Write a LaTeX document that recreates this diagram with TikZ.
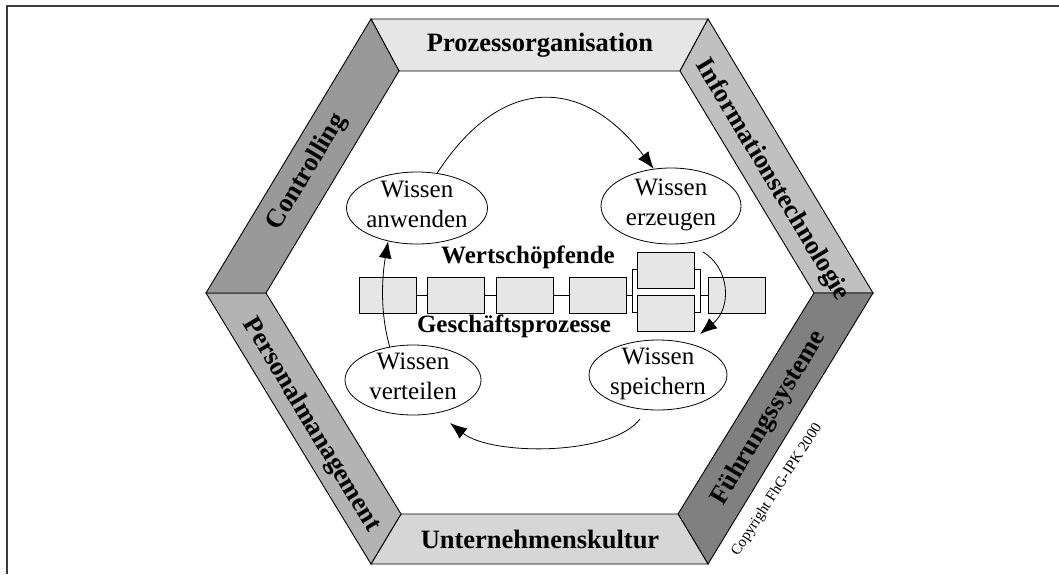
\documentclass[tikz,border=0pt]{standalone}
\usepackage{fontspec}
\setmainfont{Liberation Serif}
\usetikzlibrary{shapes.geometric,arrows.meta}
\definecolor{gtop}{HTML}{E6E6E6}
\definecolor{gtr}{HTML}{C0C0C0}
\definecolor{gbr}{HTML}{808080}
\definecolor{gbot}{HTML}{D6D6D6}
\definecolor{gbl}{HTML}{B3B3B3}
\definecolor{gtl}{HTML}{999999}
\definecolor{boxgray}{HTML}{E6E6E6}
\definecolor{framegray}{HTML}{3A3A3A}
\begin{document}
\begin{tikzpicture}[x=1pt,y=-1pt,
  frame/.style={draw=framegray,line width=2pt},
  band/.style={draw=black,line width=0.9pt,line join=miter},
  bandlabel/.style={font=\fontsize{26.5}{30}\selectfont\bfseries,inner sep=0pt},
  wissen/.style={ellipse,draw=black,line width=0.8pt,fill=white,inner sep=0pt},
  wtext/.style={font=\fontsize{25}{30}\selectfont,inner sep=0pt,anchor=base},
  ptext/.style={font=\fontsize{25}{30}\selectfont\bfseries,inner sep=0pt,anchor=base},
  pbox/.style={draw=black,fill=boxgray,line width=0.7pt,minimum width=57pt,minimum height=36pt,inner sep=0pt},
  pline/.style={draw=black,line width=0.7pt},
  cyc/.style={line width=0.8pt,-{Latex[length=17pt,width=13pt]}},
  copy/.style={font=\fontsize{15}{18}\selectfont,inner sep=0pt}
]
\useasboundingbox (0,0) rectangle (1059,574);
\fill[white] (0,0) rectangle (1059,574);
\draw[frame] (7,574) -- (7,6) -- (1059,6);

% hexagon points
\coordinate (OL) at (206,293);
\coordinate (OTL) at (371,19);
\coordinate (OTR) at (708,19);
\coordinate (OR) at (873,293);
\coordinate (OBR) at (708,564);
\coordinate (OBL) at (371,564);
\coordinate (IL) at (266,293);
\coordinate (ITL) at (399,71);
\coordinate (ITR) at (680,71);
\coordinate (IR) at (814,293);
\coordinate (IBR) at (678,514);
\coordinate (IBL) at (401,514);

\filldraw[band,fill=gtop] (OTL) -- (OTR) -- (ITR) -- (ITL) -- cycle;
\filldraw[band,fill=gtr] (OTR) -- (OR) -- (IR) -- (ITR) -- cycle;
\filldraw[band,fill=gbr] (OR) -- (OBR) -- (IBR) -- (IR) -- cycle;
\filldraw[band,fill=gbot] (OBR) -- (OBL) -- (IBL) -- (IBR) -- cycle;
\filldraw[band,fill=gbl] (OBL) -- (OL) -- (IL) -- (IBL) -- cycle;
\filldraw[band,fill=gtl] (OL) -- (OTL) -- (ITL) -- (IL) -- cycle;

\node[bandlabel] (lpo) at (540,45) {Prozessorganisation};
\node[bandlabel] (luk) at (540,539) {Unternehmenskultur};
\node[bandlabel,rotate=59] (lco) at (307,172) {Controlling};
\node[bandlabel,rotate=-59] (lit) at (772,180) {Informationstechnologie};
\node[bandlabel,rotate=-59] (lpm) at (311,425) {Personalmanagement};
\node[bandlabel,rotate=59] (lfs) at (769,418) {Führungssysteme};
\node[copy,rotate=57] (cpr) at (777,490) {Copyright FhG-IPK 2000};

% process chain
\node[pbox] (b1) at (388,295) {};
\node[pbox] (b2) at (455.5,295) {};
\node[pbox] (b3) at (525,295) {};
\node[pbox] (b4) at (598,295) {};
\node[draw=black,fill=white,line width=0.7pt,minimum width=68pt,minimum height=43pt,inner sep=0pt] (brk) at (666,291) {};
\node[pbox] (pu) at (665.5,270) {};
\node[pbox] (pl) at (665.5,313.5) {};
\node[pbox] (b6) at (736.5,295) {};
\draw[pline] (b1.east) -- (b2.west);
\draw[pline] (b2.east) -- (b3.west);
\draw[pline] (b3.east) -- (b4.west);
\draw[pline] (b4.east) -- (b4.east -| brk.west);
\draw[pline] (b6.west -| brk.east) -- (b6.west);

\node[ptext] (wsf) at (528,263) {Wertschöpfende};
\node[ptext] (gpr) at (514,332) {Geschäftsprozesse};

% knowledge ellipses
\node[wissen,minimum width=141pt,minimum height=72pt] (anw) at (417,208) {};
\node[wissen,minimum width=140pt,minimum height=76pt] (erz) at (671,206) {};
\node[wissen,minimum width=136pt,minimum height=70pt] (ver) at (413,380) {};
\node[wissen,minimum width=138pt,minimum height=70pt] (spe) at (658,375) {};

\node[wtext,yshift=11pt] at (anw.center) {Wissen};
\node[wtext,yshift=-19pt] at (anw.center) {anwenden};
\node[wtext,yshift=11pt] at (erz.center) {Wissen};
\node[wtext,yshift=-19pt] at (erz.center) {erzeugen};
\node[wtext,yshift=11pt] at (ver.center) {Wissen};
\node[wtext,yshift=-19pt] at (ver.center) {verteilen};
\node[wtext,yshift=11pt] at (spe.center) {Wissen};
\node[wtext,yshift=-19pt] at (spe.center) {speichern};

% cycle arrows
\coordinate (a2s) at (703,252);
\coordinate (a2e) at (700,334);
\coordinate (a3s) at (640,419);
\coordinate (a3e) at (450,423);
\draw[cyc] (anw.60) .. controls +(65,-100) and +(-70,-92) .. (erz.115);
\draw[cyc] (a2s) .. controls (730,268) and (732,308) .. (a2e);
\draw[cyc] (a3s) .. controls (612,456) and (492,456) .. (a3e);
\draw[cyc] (ver.125) .. controls +(-10,-35) and +(-6,35) .. (anw.229);
\end{tikzpicture}
\end{document}
